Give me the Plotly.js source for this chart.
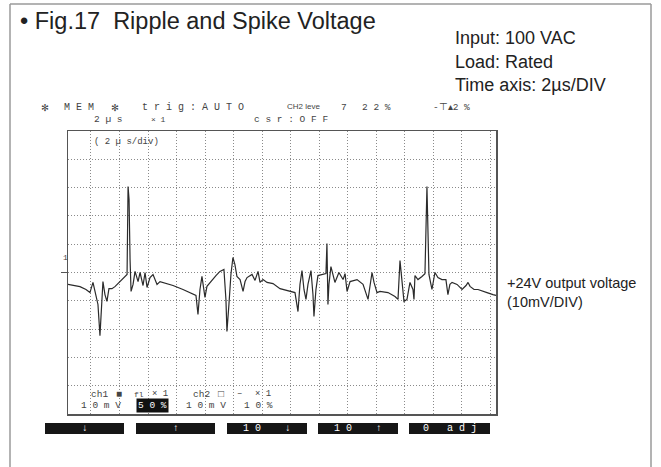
<!DOCTYPE html>
<html>
<head>
<meta charset="utf-8">
<script src="https://cdn.plot.ly/plotly-3.0.1.min.js"></script>
<style>html,body{margin:0;padding:0;background:#fff;}#chart{width:661px;height:467px;}</style>
</head>
<body>
<div id="chart"></div>
<script>
// Time (µs) and +24V output ripple (mV)
const timeUs = [0.00,0.42,0.84,1.26,1.54,1.75,1.96,2.10,2.24,2.38,2.45,2.59,2.73,2.87,3.08,3.29,3.64,3.99,4.14,4.21,4.28,4.35,4.42,4.56,4.70,4.91,5.05,5.26,5.40,5.54,5.75,5.96,6.24,6.45,6.94,7.36,8.06,8.76,8.97,9.11,9.25,9.39,9.60,9.74,9.95,10.16,10.37,10.65,10.93,11.07,11.14,11.28,11.42,11.56,11.70,11.84,12.06,12.27,12.41,12.55,12.76,12.90,13.11,13.32,13.46,13.67,13.95,14.37,14.86,15.42,15.91,16.12,16.26,16.40,16.54,16.68,16.82,17.03,17.17,17.24,17.38,17.52,17.87,18.08,18.15,18.22,18.29,18.43,18.71,18.99,19.28,19.42,19.56,19.77,20.26,20.68,21.03,21.31,21.45,21.66,21.87,22.43,22.92,23.13,23.27,23.41,23.55,23.76,23.97,24.18,24.25,24.32,24.53,24.81,25.02,25.16,25.23,25.30,25.51,25.72,25.93,26.21,26.49,26.63,26.77,26.92,27.27,27.62,27.90,28.04,28.18,28.46,28.74,29.09,29.37,29.79,30.00];
const rippleMv = [-4.2,-4.6,-5.0,-6.0,-7.1,-3.5,-8.8,-11.3,-22.3,-9.5,-3.2,-7.8,-10.2,-5.7,-5.7,-5.0,-3.2,-1.4,-0.7,30.4,25.8,4.6,-6.7,-4.2,0.4,-3.2,0.0,-4.6,0.0,-5.3,-1.8,-0.7,-4.2,-3.2,-3.9,-4.6,-6.0,-7.4,-8.1,-14.8,-6.0,-1.4,-8.8,-4.9,-3.5,-2.5,-1.1,0.4,1.1,-9.5,-20.8,-11.3,-0.7,5.3,2.8,-1.4,-2.5,-6.7,-3.2,-1.8,-1.1,-0.7,-2.8,0.4,-3.5,-2.5,-3.5,-3.9,-5.7,-6.4,-7.1,-13.8,-4.2,0.7,-6.0,-9.5,-4.2,0.7,-7.8,-15.5,-6.0,-1.1,-0.7,-0.4,10.2,-11.3,-4.2,2.1,-3.5,0.0,-2.5,-0.4,-6.7,-3.2,-2.5,-4.2,-9.5,0.0,-3.5,-7.1,-6.7,-7.1,-8.5,-9.5,4.2,-4.2,-10.2,-9.5,-3.5,-6.0,-9.5,-1.1,-2.5,-1.4,-0.4,30.4,15.2,-0.7,-6.0,0.0,-1.8,-2.5,-2.5,-7.8,-4.2,-3.5,-4.2,-6.0,-4.6,-3.5,-4.9,-6.0,-6.0,-6.7,-7.1,-7.8,-8.1];

// Texts
const titleText = "• Fig.17  Ripple and Spike Voltage";
const conditionLines = ["Input: 100 VAC", "Load: Rated", "Time axis: 2µs/DIV"];
const traceLabel = ["+24V output voltage", "(10mV/DIV)"];
const buttonLabels = ["↓", "↑", "1 0    ↓", "1 0    ↑", "0   a d j"];

// layout geometry helpers (pixel -> paper)
const L = 68, R = 496, T = 131, B = 414;
const px = x => (x - L) / (R - L);
const py = y => (B - y) / (B - T);

const mono = "Liberation Mono";
const ann = [];
function txt(x, y, text, size, opts) {
  opts = opts || {};
  ann.push(Object.assign({
    xref: "paper", yref: "paper", x: px(x), y: py(y), text: text, showarrow: false,
    xanchor: opts.anchor || "left", yanchor: "middle",
    font: {family: opts.family || mono, size: size, color: opts.color || "#444"}
  }, opts.extra || {}));
}

// condition text
conditionLines.forEach((t, i) => txt(453, 38 + i * 23.5, t, 18, {family: "Liberation Sans", color: "#222"}));
txt(505, 283, traceLabel[0], 14.5, {family: "Liberation Sans", color: "#222"});
txt(505, 302, traceLabel[1], 14.5, {family: "Liberation Sans", color: "#222"});

// scope header
txt(45, 107, "✻", 9.5, {anchor: "center", family: "DejaVu Sans"});
txt(62, 107, "M E M", 10);
txt(115, 107, "✻", 9.5, {anchor: "center", family: "DejaVu Sans"});
txt(140, 107, "t r i g : A U T O", 10);
txt(285, 106, "CH2 leve", 8, {family: "Liberation Sans"});
txt(339, 107, "7", 9.5);
txt(360, 107, "2 2 %", 9.5);
txt(431, 107, "-⊤▴2 %", 9.5);
txt(92, 120, "2 µ s", 9.5);
txt(149, 120, "× 1", 8);
txt(252, 120, "c s r : O F F", 9.5);
txt(92, 142, "( 2 µ s/div)", 9);
txt(61, 257, "1", 8);

// status rows
txt(89, 394, "ch1", 9.5);
txt(114, 394, "■", 10);
txt(132, 394, "fl", 8);
txt(150, 394, "× 1", 9);
txt(191, 394, "ch2", 9.5);
txt(216, 394, "□", 10);
txt(235, 394, "–", 9);
txt(253, 394, "× 1", 9);
txt(79, 405, "1 0 m V", 9.5);
txt(136, 405, "5 0 %", 9.5, {color: "#fff", extra: {bgcolor: "#111", borderpad: 1}});
txt(184, 405, "1 0 m V", 9.5);
txt(242, 405, "1 0 %", 9.5);

// buttons
const btnX = [[45,124],[136,215],[227,307],[318,398],[409,490]];
const shapes = [];
btnX.forEach((b, i) => {
  shapes.push({type: "rect", xref: "paper", yref: "paper", x0: px(b[0]), x1: px(b[1]), y0: py(434), y1: py(423),
    fillcolor: "#161616", line: {width: 0}});
  txt((b[0] + b[1]) / 2, 428.5, buttonLabels[i], 10, {anchor: "center", color: "#fff"});
});

// outer frame
const fc = {color: "#9a9a9a", width: 1.5};
shapes.push({type: "line", xref: "paper", yref: "paper", x0: px(10), x1: px(10), y0: py(475), y1: py(4), line: fc});
shapes.push({type: "line", xref: "paper", yref: "paper", x0: px(10), x1: px(651), y0: py(4), y1: py(4), line: fc});
shapes.push({type: "line", xref: "paper", yref: "paper", x0: px(651), x1: px(651), y0: py(475), y1: py(4), line: fc});
// channel 1 ground marker
shapes.push({type: "line", xref: "paper", yref: "y", x0: px(61), x1: px(68), y0: 0, y1: 0, line: {color: "#555", width: 1}});

const data = [{
  x: timeUs, y: rippleMv, type: "scatter", mode: "lines",
  line: {color: "#2b2b2b", width: 1.2}, hoverinfo: "skip"
}];

const axisCommon = {
  showline: true, mirror: true, linecolor: "#555", linewidth: 1.5,
  showgrid: true, gridcolor: "#8a8a8a", griddash: "1px,2px", gridwidth: 1,
  zeroline: false, showticklabels: false, ticks: "", fixedrange: true
};

const layout = {
  width: 661, height: 467, autosize: false,
  margin: {l: L, r: 661 - R, t: T, b: 467 - B},
  paper_bgcolor: "#fff", plot_bgcolor: "#fff",
  showlegend: false,
  title: {text: titleText, x: 20 / 661, xanchor: "left", xref: "container",
          y: 1 - 21 / 467, yanchor: "middle", yref: "container",
          font: {family: "Liberation Sans", size: 23.5, color: "#222"}},
  xaxis: Object.assign({range: [0, 30], tick0: 1.61, dtick: 2}, axisCommon),
  yaxis: Object.assign({range: [-50, 50], tick0: -50, dtick: 10}, axisCommon),
  annotations: ann,
  shapes: shapes
};

Plotly.newPlot("chart", data, layout, {displayModeBar: false, staticPlot: true});
</script>
</body>
</html>
